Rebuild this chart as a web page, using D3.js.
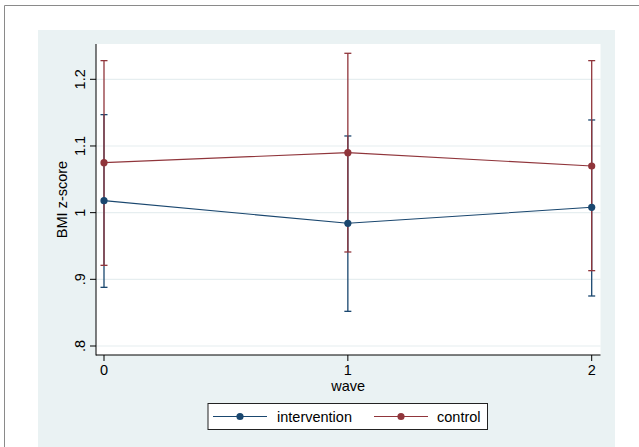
<!DOCTYPE html>
<html>
<head>
<meta charset="utf-8">
<script src="https://cdn.jsdelivr.net/npm/d3@7"></script>
<style>
  body { margin: 0; background: #fff; }
  svg text { font-family: "Liberation Sans", Arial, sans-serif; fill: #000; }
</style>
</head>
<body>
<div id="chart"></div>
<script>
// values
const waves = [0, 1, 2];
const yTicks = [0.8, 0.9, 1.0, 1.1, 1.2];
const yTickLabels = [".8", ".9", "1", "1.1", "1.2"];

const interventionMean = [1.018, 0.984, 1.008];
const interventionLow = [0.888, 0.852, 0.875];
const interventionHigh = [1.147, 1.115, 1.139];

const controlMean = [1.075, 1.090, 1.070];
const controlLow = [0.921, 0.941, 0.913];
const controlHigh = [1.228, 1.239, 1.228];

const seriesNames = ["intervention", "control"];

class WaveChart {
  constructor(props) {
    this.container = props.container;
    this.svgWidth = props.svgWidth;
    this.svgHeight = props.svgHeight;
    this.init();
  }

  init() {
    // plot region inside the shaded graph region
    this.plot = { left: 96, right: 600.5, top: 44, bottom: 355 };
    this.x = d3.scaleLinear().domain([0, 2]).range([104, 591.7]);
    this.y = d3.scaleLinear().domain([0.8, 1.2]).range([346, 79.3]);
    this.colors = ["#1a476f", "#90353b"];
    this.series = [
      { name: seriesNames[0], mean: interventionMean, low: interventionLow, high: interventionHigh },
      { name: seriesNames[1], mean: controlMean, low: controlLow, high: controlHigh },
    ];
    this.render();
  }

  render() {
    const svg = d3
      .select(this.container)
      .append("svg")
      .attr("width", this.svgWidth)
      .attr("height", this.svgHeight);

    // outer frame (top + left only visible)
    svg.append("path")
      .attr("d", `M4.5,${this.svgHeight} V5.5 H${this.svgWidth}`)
      .attr("fill", "none")
      .attr("stroke", "#8a8a8a")
      .attr("stroke-width", 1);

    // graph region
    svg.append("rect")
      .attr("x", 38).attr("y", 30)
      .attr("width", 577).attr("height", this.svgHeight - 30)
      .attr("fill", "#eaf2f3");

    // plot region
    const p = this.plot;
    svg.append("rect")
      .attr("x", p.left).attr("y", p.top)
      .attr("width", p.right - p.left).attr("height", p.bottom - p.top)
      .attr("fill", "#fff");

    // grid lines
    svg.selectAll(".grid")
      .data(yTicks)
      .enter()
      .append("line")
      .attr("x1", p.left).attr("x2", p.right)
      .attr("y1", (d) => this.y(d)).attr("y2", (d) => this.y(d))
      .attr("stroke", "#e6eef0")
      .attr("stroke-width", 1.2);

    // y axis
    const yAxisG = svg.append("g").attr("transform", `translate(${p.left},0)`);
    yAxisG.append("line")
      .attr("y1", p.top).attr("y2", p.bottom + 0.5)
      .attr("stroke", "#000").attr("stroke-width", 1);
    yAxisG.selectAll(".ytick")
      .data(yTicks)
      .enter()
      .append("line")
      .attr("x1", -6).attr("x2", 0)
      .attr("y1", (d) => this.y(d)).attr("y2", (d) => this.y(d))
      .attr("stroke", "#000");
    yAxisG.selectAll(".ylab")
      .data(yTicks)
      .enter()
      .append("text")
      .attr("transform", (d) => `translate(-11.5,${this.y(d)}) rotate(-90)`)
      .attr("text-anchor", "middle")
      .style("font-size", "14.5px")
      .text((d, i) => yTickLabels[i]);

    svg.append("text")
      .attr("transform", `translate(66.5,${(p.top + p.bottom) / 2}) rotate(-90)`)
      .attr("text-anchor", "middle")
      .style("font-size", "14.5px")
      .text("BMI z-score");

    // x axis
    const xAxisG = svg.append("g").attr("transform", `translate(0,${p.bottom})`);
    xAxisG.append("line")
      .attr("x1", p.left).attr("x2", p.right)
      .attr("stroke", "#000").attr("stroke-width", 1);
    xAxisG.selectAll(".xtick")
      .data(waves)
      .enter()
      .append("line")
      .attr("x1", (d) => this.x(d)).attr("x2", (d) => this.x(d))
      .attr("y1", 0).attr("y2", 6)
      .attr("stroke", "#000");
    xAxisG.selectAll(".xlab")
      .data(waves)
      .enter()
      .append("text")
      .attr("x", (d) => this.x(d))
      .attr("y", 19.5)
      .attr("text-anchor", "middle")
      .style("font-size", "14.5px")
      .text((d) => d);

    svg.append("text")
      .attr("x", (p.left + p.right) / 2)
      .attr("y", 391)
      .attr("text-anchor", "middle")
      .style("font-size", "14.5px")
      .text("wave");

    // error bars (caps)
    const chartG = svg.append("g");
    this.series.forEach((s, si) => {
      const g = chartG.append("g");
      const col = this.colors[si];
      g.selectAll(".bar")
        .data(waves)
        .enter()
        .append("line")
        .attr("x1", (d) => this.x(d)).attr("x2", (d) => this.x(d))
        .attr("y1", (d, i) => this.y(s.low[i]))
        .attr("y2", (d, i) => this.y(s.high[i]))
        .attr("stroke", col).attr("stroke-width", 1.3);
      ["low", "high"].forEach((k) => {
        g.selectAll(".cap-" + k)
          .data(waves)
          .enter()
          .append("line")
          .attr("x1", (d) => this.x(d) - 3.5).attr("x2", (d) => this.x(d) + 3.5)
          .attr("y1", (d, i) => this.y(s[k][i]))
          .attr("y2", (d, i) => this.y(s[k][i]))
          .attr("stroke", col).attr("stroke-width", 1.3);
      });
    });

    // connected means
    const line = d3.line().x((d) => this.x(d.w)).y((d) => this.y(d.v));
    this.series.forEach((s, si) => {
      const pts = waves.map((w, i) => ({ w: w, v: s.mean[i] }));
      chartG.append("path")
        .attr("d", line(pts))
        .attr("fill", "none")
        .attr("stroke", this.colors[si])
        .attr("stroke-width", 1.1);
      chartG.selectAll(".dot-" + si)
        .data(pts)
        .enter()
        .append("circle")
        .attr("cx", (d) => this.x(d.w))
        .attr("cy", (d) => this.y(d.v))
        .attr("r", 3.6)
        .attr("fill", this.colors[si]);
    });

    this.renderLegend(svg);
  }

  renderLegend(svg) {
    const legendG = svg.append("g").attr("transform", "translate(208,403.5)");
    legendG.append("rect")
      .attr("width", 279.5).attr("height", 26)
      .attr("fill", "#fff")
      .attr("stroke", "#222").attr("stroke-width", 1);
    const offsets = [5, 166];
    const textX = [69, 229];
    this.series.forEach((s, i) => {
      const g = legendG.append("g").attr("transform", `translate(${offsets[i]},13)`);
      g.append("line")
        .attr("x1", 0).attr("x2", 54)
        .attr("stroke", this.colors[i]).attr("stroke-width", 1.1);
      g.append("circle")
        .attr("cx", 27).attr("r", 3.6)
        .attr("fill", this.colors[i]);
      legendG.append("text")
        .attr("x", textX[i]).attr("y", 18)
        .style("font-size", "14.5px")
        .text(s.name);
    });
  }
}

new WaveChart({ container: "#chart", svgWidth: 639, svgHeight: 447 });
</script>
</body>
</html>
